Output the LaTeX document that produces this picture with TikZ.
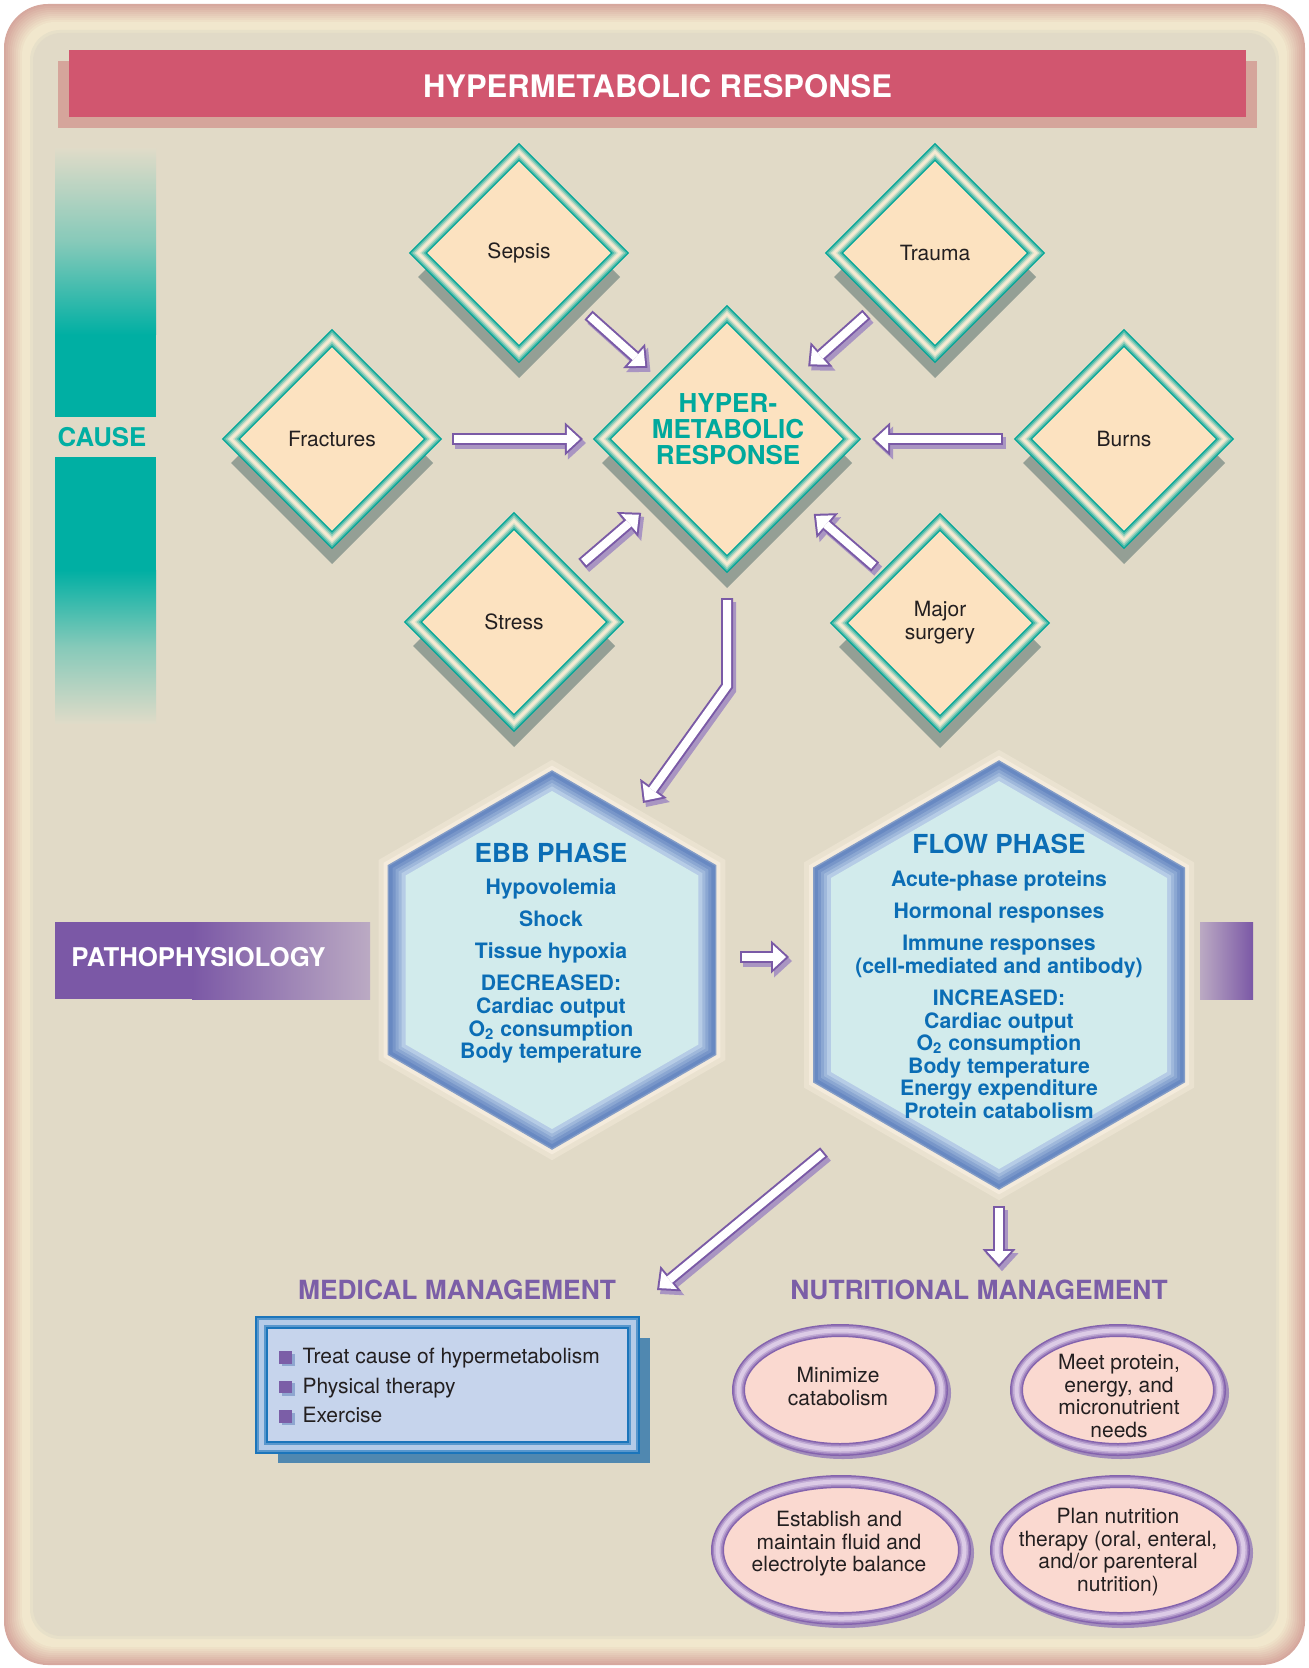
\documentclass[tikz,border=0pt]{standalone}
\usepackage{fontspec}
\setmainfont{TeX Gyre Heros}
\usepackage{xcolor}
\usepackage{tikz}
\usetikzlibrary{calc}
\usetikzlibrary{arrows.meta}
\usetikzlibrary{shapes.geometric}
\usetikzlibrary{shadows}

\definecolor{pagebg}{HTML}{E1DAC7}
\definecolor{framepink}{HTML}{D6A89E}
\definecolor{framecream}{HTML}{F1E8CD}
\definecolor{titlered}{HTML}{D1566F}
\definecolor{titleshade}{HTML}{D5A59B}
\definecolor{causeteal}{HTML}{00AFA3}
\definecolor{causepale}{HTML}{DFDBC8}
\definecolor{diamteal}{HTML}{00A597}
\definecolor{diamcream}{HTML}{F6EAD2}
\definecolor{diampeach}{HTML}{FCE2C0}
\definecolor{diamshade}{HTML}{949F95}
\definecolor{hypertealtext}{HTML}{00A99D}
\definecolor{arrowpurple}{HTML}{7A5AA6}
\definecolor{arrowshade}{HTML}{A995C2}
\definecolor{hexblue}{HTML}{6889C2}
\definecolor{hexpale}{HTML}{B6CCE6}
\definecolor{hexfill}{HTML}{D2EBEC}
\definecolor{hexglow}{HTML}{F4EBDC}
\definecolor{phaseblue}{HTML}{0B6DB5}
\definecolor{mgmtpurple}{HTML}{7B5EA7}
\definecolor{boxblue}{HTML}{1B75BB}
\definecolor{boxpale}{HTML}{B4CBE8}
\definecolor{boxfill}{HTML}{C6D4EC}
\definecolor{boxshade}{HTML}{5088B0}
\definecolor{bulletshade}{HTML}{8FA6D0}
\definecolor{ovalpurple}{HTML}{8463AD}
\definecolor{ovalpale}{HTML}{DCCBE6}
\definecolor{ovalfill}{HTML}{FAD9D0}
\definecolor{ovalshade}{HTML}{A28CBB}
\definecolor{inktext}{HTML}{231F20}
\definecolor{pathpurple}{HTML}{7B58A6}
\definecolor{pathpale}{HTML}{BBAAC3}

\newcommand{\medbullet}{\makebox[0pt][l]{\hspace{1.3pt}\raisebox{-1.3pt}{\textcolor{bulletshade}{\rule{6.3pt}{6.3pt}}}}\textcolor{mgmtpurple}{\rule{6.3pt}{6.3pt}}\hspace{5.3pt}}
\newcommand{\blockarrow}[3]{%
	\draw[arrowshadow,shorten <=#2,shorten >=#3] #1;
	\draw[arrowline,shorten <=#2,shorten >=#3] #1;
	\draw[arrowcore,shorten <=#2+1pt,shorten >=#3+1.5pt] #1;
}

\begin{document}
\begin{tikzpicture}[x=0.5pt,y=-0.5pt,
	titlebar/.style={rectangle,fill=titlered,minimum width=588.5pt,minimum height=33.5pt,inner sep=0pt,text=white,
		font=\fontsize{15.5}{18}\selectfont\bfseries,text height=14.5pt,text depth=0pt},
	sidelabel/.style={inner sep=0pt,font=\fontsize{12.9}{15}\selectfont\bfseries},
	diam/.style={diamond,aspect=1,inner sep=0pt,outer sep=0pt,minimum width=101pt,minimum height=101pt,
		drop shadow={fill=diamshade,opacity=1,shadow xshift=0pt,shadow yshift=-12pt},
		fill=diampeach,draw=diamteal,line width=6.5pt,
		postaction={draw=diamteal!70!diamcream,line width=5.2pt},
		postaction={draw=diamteal!42!diamcream,line width=3.9pt},
		postaction={draw=diamteal!18!diamcream,line width=2.6pt},
		postaction={draw=diamcream,line width=1.3pt},
		font=\fontsize{10.5}{11.5}\selectfont,text=inktext,align=center},
	hypertext/.style={inner sep=0pt,align=center,text=hypertealtext,font=\fontsize{13}{13}\selectfont\bfseries},
	hexcell/.style={regular polygon,regular polygon sides=6,shape border rotate=30,inner sep=0pt,outer sep=0pt,
		preaction={draw=hexglow!45!pagebg,line width=27pt},
		preaction={draw=hexglow,line width=22pt},
		draw=hexblue!80!hexglow,line width=18pt,
		postaction={draw=hexblue,line width=16.5pt},
		postaction={draw=hexblue!80!hexpale,line width=13pt},
		postaction={draw=hexblue!55!hexpale,line width=10pt},
		postaction={draw=hexblue!30!hexpale,line width=7pt},
		postaction={draw=hexpale,line width=4pt},
		postaction={fill=hexfill}},
	phasetext/.style={inner sep=0pt,align=center,text=phaseblue,font=\fontsize{10.6}{11.3}\selectfont\bfseries},
	mgmthead/.style={inner sep=0pt,text=mgmtpurple,font=\fontsize{13.2}{15}\selectfont\bfseries},
	medbox/.style={rectangle,inner sep=0pt,outer sep=0pt,minimum width=186pt,minimum height=62.5pt,
		drop shadow={fill=boxshade,opacity=1,shadow xshift=8pt,shadow yshift=-7.5pt},
		fill=boxfill,draw=boxblue,line width=6.5pt,
		postaction={draw=boxblue!60!boxpale,line width=4.8pt},
		postaction={draw=boxpale,line width=2.6pt}},
	listtext/.style={inner sep=0pt,align=left,text=inktext,font=\fontsize{10.5}{14.75}\selectfont},
	oval/.style={ellipse,inner sep=0pt,outer sep=0pt,
		preaction={draw=ovalshade,fill=ovalshade,line width=6.5pt,transform canvas={shift={(1.5pt,-1.5pt)}}},
		fill=ovalfill,draw=ovalpurple,line width=6.5pt,
		postaction={draw=ovalpurple!65!ovalpale,line width=5pt},
		postaction={draw=ovalpurple!30!ovalpale,line width=3.5pt},
		postaction={draw=ovalpale,line width=2pt}},
	smalloval/.style={oval,minimum width=101.5pt,minimum height=59.5pt},
	bigoval/.style={oval,minimum width=123.5pt,minimum height=68.5pt},
	ovaltext/.style={inner sep=0pt,align=center,text=inktext,font=\fontsize{10.5}{11.3}\selectfont},
	arrowline/.style={line width=6pt,draw=arrowpurple,-{Triangle[width=16.5pt,length=9pt,line width=0pt]}},
	arrowcore/.style={line width=4pt,draw=white,-{Triangle[width=12pt,length=6.5pt,line width=0pt]}},
	arrowshadow/.style={arrowline,draw=arrowshade,transform canvas={shift={(1.5pt,-2pt)}}}]
	\useasboundingbox (0,0) rectangle (1308,1668);
	\fill[framepink,rounded corners=22pt] (4,4) rectangle (1305,1665);
	\foreach \k in {1,...,9}{
		\pgfmathtruncatemacro{\mixval}{100-\k*11}
		\fill[framepink!\mixval!framecream,rounded corners=22pt-\k*0.6pt] (4+\k*2,4+\k*2) rectangle (1305-\k*2,1665-\k*2);
	}
	\fill[pagebg!60!framecream,rounded corners=15pt] (30,30) rectangle (1279,1639);
	\fill[pagebg,rounded corners=14pt] (33,33) rectangle (1276,1636);

	\fill[titleshade] (58,61) rectangle (1257,128);
	\node[titlebar] (title) at (657.5,83.5) {HYPERMETABOLIC RESPONSE};

	\shade[top color=causepale,bottom color=causeteal,middle color=causeteal!40!causepale] (55,149) rectangle (156,335);
	\fill[causeteal] (55,335) rectangle (156,417);
	\fill[causeteal] (55,457) rectangle (156,570);
	\shade[top color=causeteal,bottom color=causepale,middle color=causeteal!40!causepale] (55,570) rectangle (156,723);
	\node[sidelabel,text=causeteal] (cause) at (102,437.5) {CAUSE};

	\fill[pathpurple] (55,922) rectangle (192,999);
	\shade[left color=pathpurple,right color=pathpale] (192,922) rectangle (370,999);
	\shade[left color=pathpale,right color=pathpurple] (1200,922) rectangle (1253,999);
	\node[sidelabel,text=white,anchor=west] (patho) at (71,957) {PATHOPHYSIOLOGY};

	\node[diam] (sepsis) at (519,253) {Sepsis};
	\node[diam] (trauma) at (935,253) {Trauma};
	\node[diam] (fractures) at (332,439) {Fractures};
	\node[diam] (burns) at (1124,439) {Burns};
	\node[diam] (stress) at (514,622) {Stress};
	\node[diam] (surgery) at (940,623) {Major\\surgery};
	\node[diam,minimum width=125pt,minimum height=125pt] (hyper) at (727,439) {};
	\node[hypertext,anchor=north] (hypertxt) at (728,393) {HYPER-\\METABOLIC\\RESPONSE};

	\node[hexcell,minimum size=169pt] (ebb) at (552,960) {};
	\node[hexcell,minimum size=194pt] (flow) at (999,975) {};
	\node[phasetext,anchor=north] (ebbtext) at (551,843) {{\fontsize{13.1}{14}\selectfont EBB PHASE}\\[4.7pt]Hypovolemia\\[4.7pt]Shock\\[4.7pt]Tissue hypoxia\\[4.7pt]DECREASED:\\Cardiac output\\O\textsubscript{2} consumption\\Body temperature};
	\node[phasetext,anchor=north] (flowtext) at (999,834) {{\fontsize{13.1}{14}\selectfont FLOW PHASE}\\[5.2pt]Acute-phase proteins\\[4.7pt]Hormonal responses\\[4.7pt]Immune responses\\(cell-mediated and antibody)\\[4.7pt]INCREASED:\\Cardiac output\\O\textsubscript{2} consumption\\Body temperature\\Energy expenditure\\Protein catabolism};

	\node[mgmthead] (medhead) at (457,1290) {MEDICAL MANAGEMENT};
	\node[mgmthead] (nuthead) at (979,1290) {NUTRITIONAL MANAGEMENT};
	\node[medbox] (medbox) at (447.5,1385) {};
	\node[listtext,anchor=north west] (medlist) at (279,1348) {\medbullet Treat cause of hypermetabolism\\\medbullet Physical therapy\\\medbullet Exercise};

	\node[smalloval] (minimize) at (840,1390) {};
	\node[smalloval] (meet) at (1118,1390) {};
	\node[bigoval] (establish) at (841,1550) {};
	\node[bigoval] (plan) at (1120,1550) {};
	\node[ovaltext,anchor=north] (minimizetext) at (838,1367) {Minimize\\catabolism};
	\node[ovaltext,anchor=north] (meettext) at (1119,1354) {Meet protein,\\energy, and\\micronutrient\\needs};
	\node[ovaltext,anchor=north] (establishtext) at (839,1511) {Establish and\\maintain fluid and\\electrolyte balance};
	\node[ovaltext,anchor=north] (plantext) at (1118,1508) {Plan nutrition\\therapy (oral, enteral,\\and/or parenteral\\nutrition)};

	\blockarrow{(sepsis) -- (hyper)}{10.85pt}{9.1pt}
	\blockarrow{(trauma) -- (hyper)}{10.2pt}{10.2pt}
	\blockarrow{(fractures) -- (hyper)}{9.5pt}{9.5pt}
	\blockarrow{(burns) -- (hyper)}{10pt}{10pt}
	\blockarrow{(stress) -- (hyper)}{9.15pt}{12.3pt}
	\blockarrow{(surgery) -- (hyper)}{7pt}{13pt}

	\coordinate (hypbend) at ($(hyper.south)+(0,122)$);
	\coordinate (ebbtip) at ($(ebb)+(91,-157)$);
	\blockarrow{(hyper.south) -- (hypbend) -- (ebbtip)}{17pt}{0pt}
	\coordinate (ebbout) at ($(ebb)+(188,-3)$);
	\coordinate (flowin) at ($(flow)+(-210,-18)$);
	\blockarrow{(ebbout) -- (flowin)}{0pt}{0pt}
	\coordinate (flowout) at ($(flow)+(-175,177)$);
	\coordinate (medin) at ($(medhead)+(200,0)$);
	\blockarrow{(flowout) -- (medin)}{0pt}{0pt}
	\blockarrow{(flow.south) -- (flow.south |- nuthead.north)}{18.5pt}{6.25pt}
\end{tikzpicture}
\end{document}
